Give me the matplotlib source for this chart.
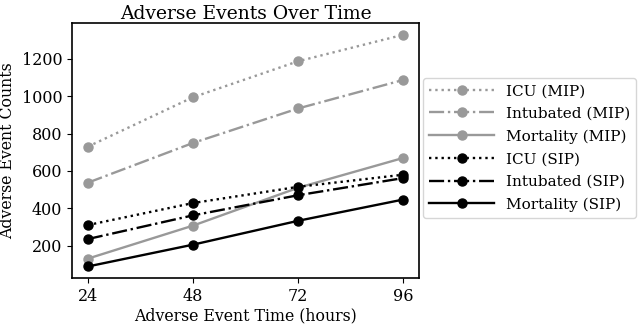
import matplotlib
matplotlib.use("Agg")
import matplotlib.pyplot as plt

plt.rcParams['font.family'] = ['DejaVu Serif']

hours = [24, 48, 72, 96]
icu_mip = [730, 995, 1188, 1330]
intub_mip = [537, 750, 935, 1088]
mort_mip = [130, 307, 510, 670]
icu_sip = [310, 428, 515, 580]
intub_sip = [235, 362, 470, 562]
mort_sip = [88, 205, 333, 447]

grey = '#999999'
fig = plt.figure(figsize=(6.4, 3.26), dpi=100)
ax = fig.add_axes([0.1125, 0.147, 0.5425, 0.782])
kw = dict(marker='o', lw=1.7, ms=6.5)
ax.plot(hours, icu_mip, ':', color=grey, label='ICU (MIP)', **kw)
ax.plot(hours, intub_mip, '-.', color=grey, label='Intubated (MIP)', **kw)
ax.plot(hours, mort_mip, '-', color=grey, label='Mortality (MIP)', **kw)
ax.plot(hours, icu_sip, ':', color='black', label='ICU (SIP)', **kw)
ax.plot(hours, intub_sip, '-.', color='black', label='Intubated (SIP)', **kw)
ax.plot(hours, mort_sip, '-', color='black', label='Mortality (SIP)', **kw)
ax.set_xticks(hours)
ax.set_yticks([200, 400, 600, 800, 1000, 1200])
ax.tick_params(labelsize=11.5)
for s in ax.spines.values():
    s.set_linewidth(1.2)
ax.set_xlabel('Adverse Event Time (hours)', fontsize=11.3, labelpad=2)
ax.set_ylabel('Adverse Event Counts', fontsize=11.3, labelpad=4)
ax.set_title('Adverse Events Over Time', fontsize=13.5, pad=3)
ax.legend(loc='center left', bbox_to_anchor=(1.012, 0.51), borderaxespad=0, fontsize=11,
          handlelength=4.2, borderpad=0.4, labelspacing=0.56, handletextpad=0.8)
fig.savefig('out.png', dpi=100)
